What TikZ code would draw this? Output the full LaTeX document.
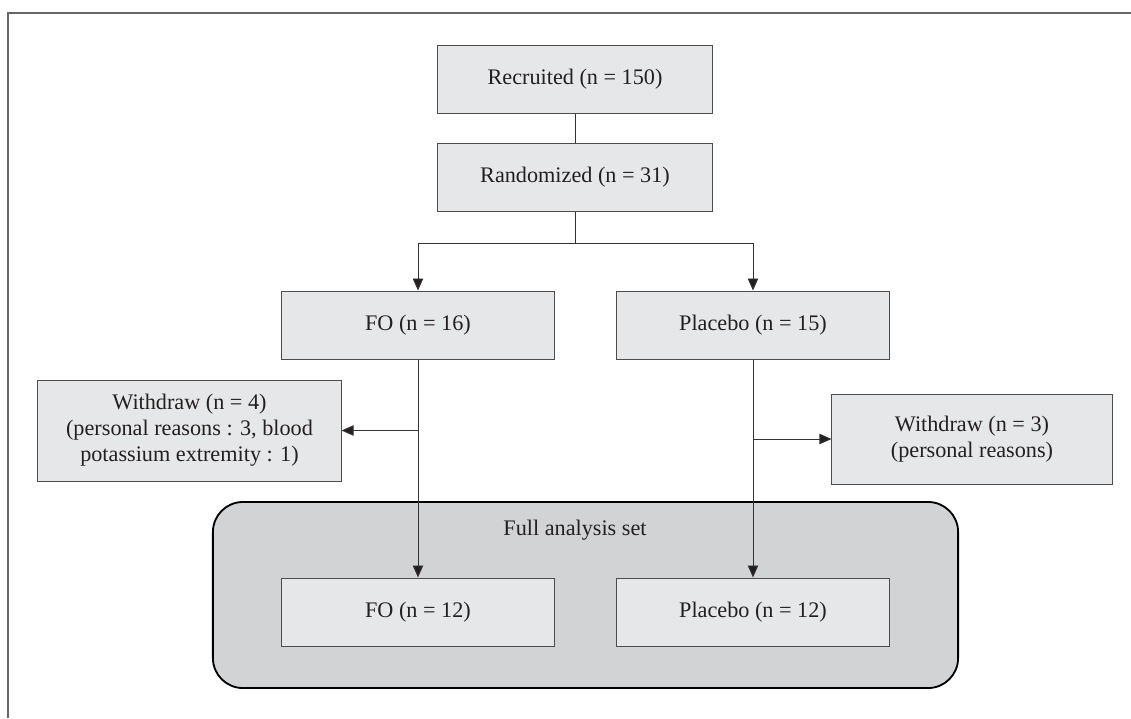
\documentclass[tikz,border=0pt]{standalone}
\usepackage{fontspec}
\setmainfont{Liberation Serif}
\usetikzlibrary{arrows.meta}
\definecolor{boxfill}{HTML}{E6E7E8}
\definecolor{setfill}{HTML}{D1D3D4}
\definecolor{inkgray}{HTML}{231F20}
\begin{document}
\begin{tikzpicture}[x=0.025cm,y=-0.025cm,
  every node/.style={font=\fontsize{15.8}{18.5}\selectfont,text=inkgray},
  flowbox/.style={draw=black!70,fill=boxfill,line width=0.7pt,minimum width=6.8cm,minimum height=1.7cm,inner sep=0pt,align=center},
  conn/.style={draw=black!80,line width=0.7pt},
  arr/.style={conn,-{Triangle[length=0.3cm,width=0.26cm,fill=inkgray]}}]
%\draw[step=50,gray,very thin] (0,0) grid (1131,718); %background grid
\useasboundingbox (0,0) rectangle (1131,718);

\draw[black!60,line width=0.8pt] (8,718) -- (8,13) -- (1131,13);

\node[draw=black,fill=setfill,line width=1.3pt,rounded corners=0.75cm,minimum width=18.625cm,minimum height=4.65cm] (fas) at (585.5,595) {};
\node[] (fasl) at (575,530) {Full analysis set};

\node[flowbox,minimum width=6.85cm] (rec) at (575,79) {Recruited (n = 150)};
\node[flowbox,minimum width=6.85cm] (rand) at (575,177) {Randomized (n = 31)};

\node[flowbox] (fo16) at (418,325) {FO (n = 16)};
\node[flowbox] (pl15) at (753,325) {Placebo (n = 15)};

\node[flowbox,minimum width=7.575cm,minimum height=2.525cm] (wd4) at (189.5,430.5) {Withdraw (n = 4)\\(personal reasons : 3, blood\\potassium extremity : 1)};
\node[flowbox,minimum width=7cm,minimum height=2.25cm] (wd3) at (972,439) {Withdraw (n = 3)\\(personal reasons)};

\node[flowbox] (fo12) at (418,612) {FO (n = 12)};
\node[flowbox] (pl12) at (753,612) {Placebo (n = 12)};

\coordinate (split) at (575,243);
\coordinate (jfo) at (418,430.5);
\coordinate (jpl) at (753,439);

\draw[conn] (rec) -- (rand);
\draw[conn] (rand) -- (split);
\draw[arr] (split) -| (fo16);
\draw[arr] (split) -| (pl15);

\draw[arr] (fo16) -- (fo12);
\draw[arr] (pl15) -- (pl12);
\draw[arr] (jfo) -- (wd4);
\draw[arr] (jpl) -- (wd3);

\end{tikzpicture}
\end{document}
